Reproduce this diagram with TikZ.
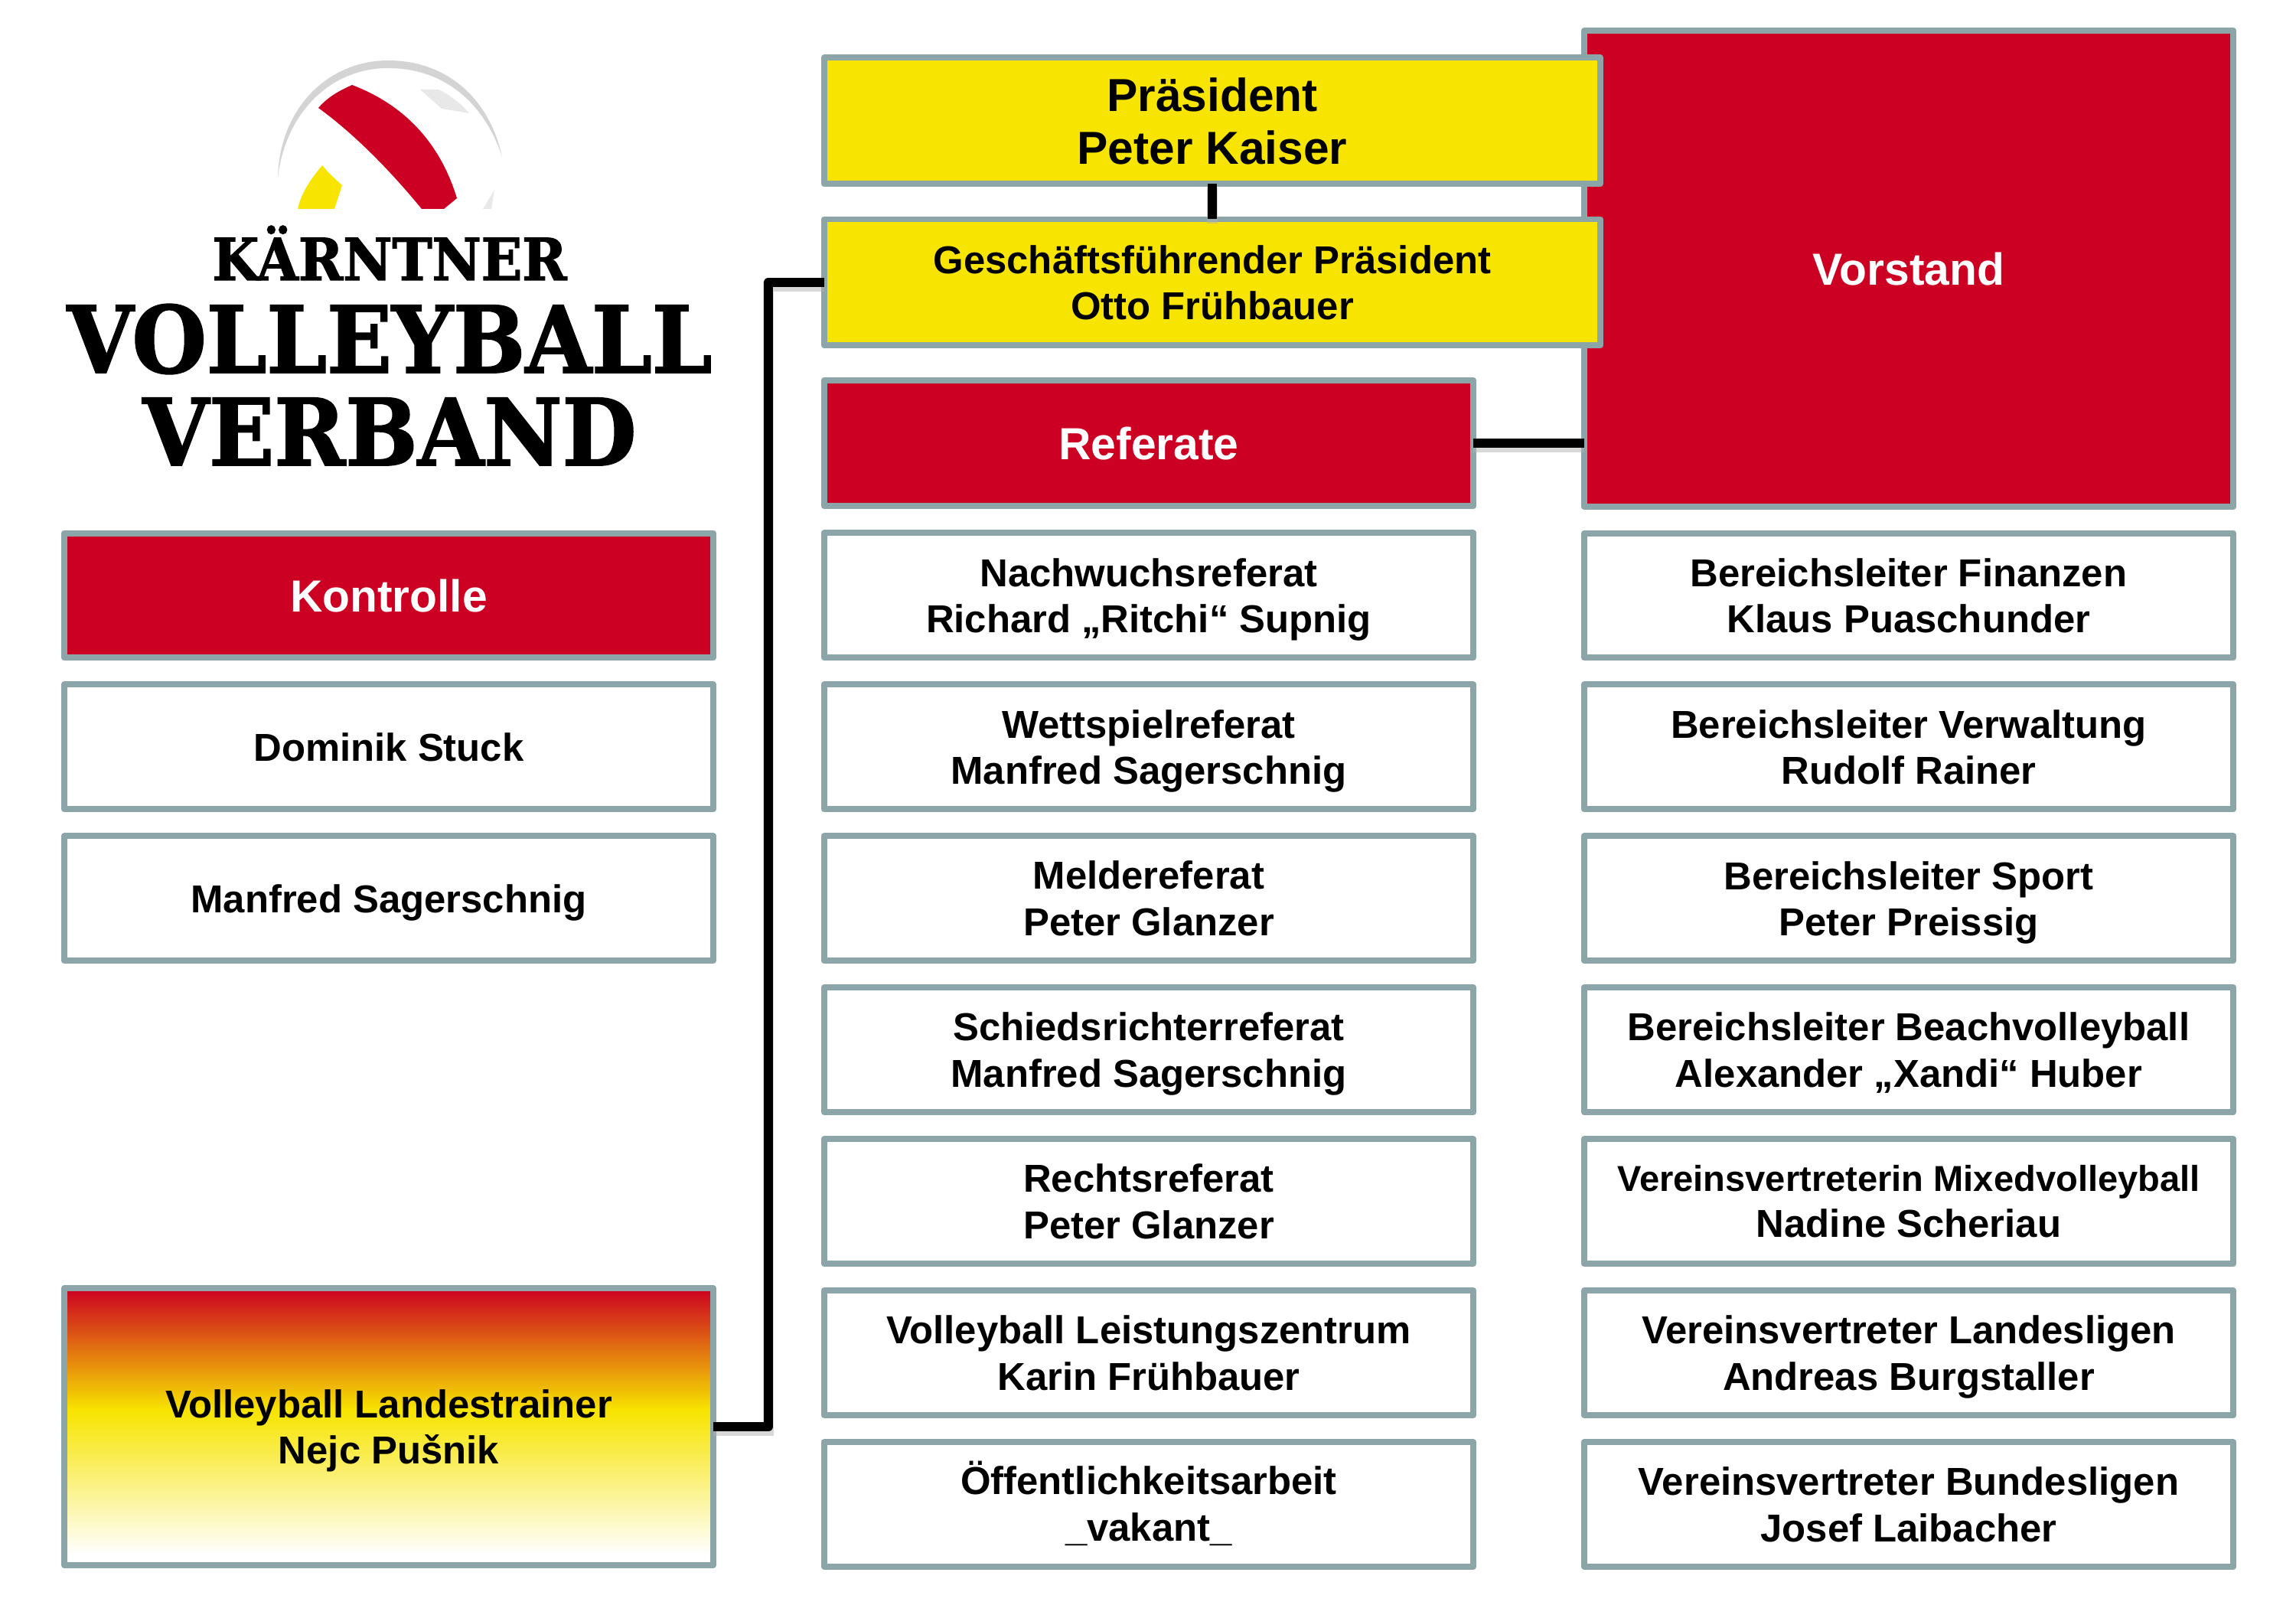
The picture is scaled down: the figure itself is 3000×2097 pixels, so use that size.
\documentclass[tikz,border=0pt]{standalone}
\usepackage{fontspec}
\setmainfont{Liberation Sans}
\newfontfamily\logofont[FakeStretch=.925,FakeBold=1.6]{DejaVu Serif Bold}
\usetikzlibrary{positioning}
\definecolor{kvvred}{RGB}{204,0,34}
\definecolor{kvvyellow}{RGB}{247,228,0}
\definecolor{kvvframe}{RGB}{139,165,168}
\definecolor{ballgrey}{RGB}{212,212,212}
\definecolor{balllight}{RGB}{232,232,232}
\pgfdeclareverticalshading{trainerfade}{100bp}{color(0bp)=(white); color(27bp)=(white); color(53bp)=(kvvyellow); color(75bp)=(kvvred); color(100bp)=(kvvred)}

\begin{document}
\begin{tikzpicture}[x=0.24pt,y=-0.24pt,
    node distance=8.4pt,
    box/.style={draw=kvvframe,line width=1.92pt,line join=round,fill=white,rectangle,outer sep=0pt,align=center,
        minimum width=203.6pt,minimum height=39.1pt,text depth=0pt,font=\fontsize{12.2}{14.5}\selectfont\bfseries},
    head/.style={box,fill=kvvred,text=white,font=\fontsize{14.1}{16}\selectfont\bfseries},
    chief/.style={box,fill=kvvyellow,minimum width=243.4pt},
    link/.style={line width=2.9pt,line join=round,
        preaction={draw=black!30,opacity=.5,line width=3.2pt,transform canvas={yshift=-1.3pt}}},
    logotext/.style={inner sep=0pt,anchor=base,text=black}]
\useasboundingbox (0,0) rectangle (3000,2097);
% ball
\fill[ballgrey] (363,233) .. controls (365,140) and (430,79) .. (507,79) .. controls (585,79) and (640,130) .. (656,205)
    .. controls (635,140) and (585,89) .. (507,89) .. controls (430,89) and (372,150) .. (363,233) -- cycle;
\fill[kvvred] (416,141) .. controls (430,125) and (445,118) .. (460,111) .. controls (510,130) and (570,170) .. (597,259)
    -- (580,273) -- (551,273) .. controls (520,235) and (470,180) .. (416,141) -- cycle;
\fill[kvvyellow] (421,216) .. controls (428,225) and (438,234) .. (447,242) -- (437,273) -- (389,273)
    .. controls (394,250) and (408,232) .. (421,216) -- cycle;
\fill[balllight] (549,117) -- (573,117) .. controls (590,125) and (605,138) .. (613,148) -- (577,142) -- cycle;
\fill[balllight] (646,248) -- (642,273) -- (631,273) -- cycle;
\node[logotext,font=\fontsize{18.2}{20}\logofont] (kaernten) at (509,366) {KÄRNTNER};
\node[logotext,font=\fontsize{29}{30}\logofont] (volleyball) at (509,487) {VOLLEYBALL};
\node[logotext,font=\fontsize{29}{30}\logofont] (verband) at (509,608) {VERBAND};

\node[head] (kontrolle) at (508,778) {Kontrolle};
\node[box] (stuck) [below=of kontrolle] {Dominik Stuck};
\node[box] (sagerschnig) [below=of stuck] {Manfred Sagerschnig};
\node[box,minimum height=86.8pt,shading=trainerfade] (trainer) at (508,1864) {Volleyball Landestrainer\\Nejc Pušnik};

\node[head,minimum height=149.3pt] (vorstand) at (2494,351) {Vorstand};
\node[chief,minimum height=39.6pt,font=\fontsize{14.5}{16.6}\selectfont\bfseries] (praesident) at (1584,158) {Präsident\\Peter Kaiser};
\node[chief,minimum height=39.6pt] (geschaeft) at (1584,369) {Geschäftsführender Präsident\\Otto Frühbauer};
\node[head,minimum height=39.6pt] (referate) at (1501,579) {Referate};

\node[box] (nachwuchs) [below=of referate] {Nachwuchsreferat\\Richard „Ritchi“ Supnig};
\node[box] (wettspiel) [below=of nachwuchs] {Wettspielreferat\\Manfred Sagerschnig};
\node[box] (melde) [below=of wettspiel] {Meldereferat\\Peter Glanzer};
\node[box] (schieds) [below=of melde] {Schiedsrichterreferat\\Manfred Sagerschnig};
\node[box] (recht) [below=of schieds] {Rechtsreferat\\Peter Glanzer};
\node[box] (zentrum) [below=of recht] {Volleyball Leistungszentrum\\Karin Frühbauer};
\node[box,text height=23pt] (oeffentlich) [below=of zentrum] {Öffentlichkeitsarbeit\\\_vakant\_};

\node[box] (finanzen) at (2494,778) {Bereichsleiter Finanzen\\Klaus Puaschunder};
\node[box] (verwaltung) [below=of finanzen] {Bereichsleiter Verwaltung\\Rudolf Rainer};
\node[box] (sport) [below=of verwaltung] {Bereichsleiter Sport\\Peter Preissig};
\node[box] (beach) [below=of sport] {Bereichsleiter Beachvolleyball\\Alexander „Xandi“ Huber};
\node[box] (mixed) [below=of beach] {{\fontsize{11.3}{14}\selectfont Vereinsvertreterin Mixedvolleyball}\\Nadine Scheriau};
\node[box] (landesligen) [below=of mixed] {Vereinsvertreter Landesligen\\Andreas Burgstaller};
\node[box] (bundesligen) [below=of landesligen] {Vereinsvertreter Bundesligen\\Josef Laibacher};

\coordinate (knick) at (1004,1000);
\draw[link] (praesident) -- (geschaeft);
\draw[link] (referate) -- (referate -| vorstand.west);
\draw[link] (trainer.east) -- (trainer -| knick) -- (geschaeft -| knick) -- (geschaeft.west);
\end{tikzpicture}
\end{document}
